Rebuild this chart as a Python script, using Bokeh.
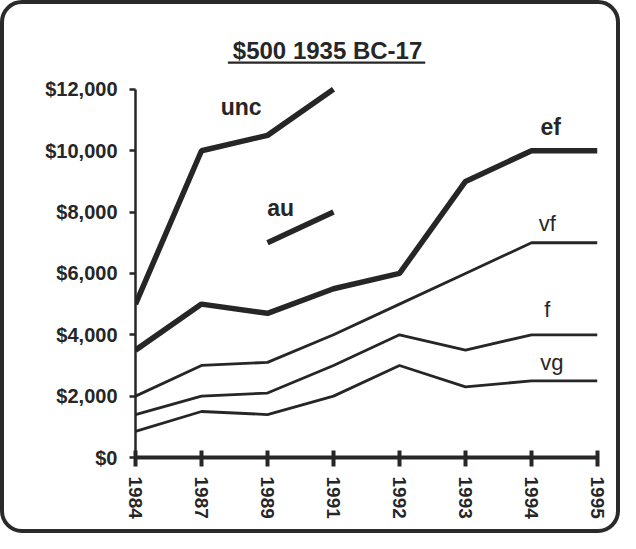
from bokeh.plotting import figure
from bokeh.models import Range1d, FixedTicker, NumeralTickFormatter
from bokeh.embed import file_html
from bokeh.resources import INLINE
from bokeh.core.properties import value

# ---- data ----
years = ["1984", "1987", "1989", "1991", "1992", "1993", "1994", "1995"]
unc_years = ["1984", "1987", "1989", "1991"]
unc = [5000, 10000, 10500, 12000]
au_years = ["1989", "1991"]
au = [7000, 8000]
ef = [3500, 5000, 4700, 5500, 6000, 9000, 10000, 10000]
vf = [2000, 3000, 3100, 4000, 5000, 6000, 7000, 7000]
f = [1400, 2000, 2100, 3000, 4000, 3500, 4000, 4000]
vg = [850, 1500, 1400, 2000, 3000, 2300, 2500, 2500]
y_ticks = [0, 2000, 4000, 6000, 8000, 10000, 12000]
title_text = "$500 1935 BC-17"

idx = {yr: i for i, yr in enumerate(years)}
X = [idx[y] for y in years]

FONT = "Liberation Sans"
INK = "#262626"

p = figure(width=620, height=533, output_backend="svg", toolbar_location=None,
           x_range=Range1d(0, len(years) - 1), y_range=Range1d(0, 14440),
           min_border_left=131, min_border_right=27, min_border_top=10,
           min_border_bottom=80)
p.border_fill_color = None
p.background_fill_color = None
p.outline_line_color = None
p.xgrid.visible = False
p.ygrid.visible = False
p.styles = {"border": "4px solid #2a2a2a", "border-radius": "22px",
            "box-sizing": "border-box", "overflow": "hidden"}

# y axis
ya = p.yaxis[0]
ya.ticker = FixedTicker(ticks=y_ticks)
ya.formatter = NumeralTickFormatter(format="$0,0")
ya.bounds = (0, 12000)
ya.axis_line_width = 2.5
ya.axis_line_color = INK
ya.major_tick_line_width = 2.5
ya.major_tick_line_color = INK
ya.major_tick_in = 0
ya.major_tick_out = 6
ya.minor_tick_line_color = None
ya.major_label_text_font = FONT
ya.major_label_text_font_style = "bold"
ya.major_label_text_font_size = "20px"
ya.major_label_text_color = INK
ya.major_label_standoff = 12

# x axis
xa = p.xaxis[0]
xa.ticker = FixedTicker(ticks=X)
xa.major_label_overrides = {i: yr for i, yr in zip(X, years)}
xa.axis_line_width = 4
xa.axis_line_color = INK
xa.major_tick_line_width = 4
xa.major_tick_line_color = INK
xa.major_tick_in = 7
xa.major_tick_out = 9
xa.minor_tick_line_color = None
xa.major_label_orientation = "vertical"
xa.major_label_text_font = FONT
xa.major_label_text_font_style = "bold"
xa.major_label_text_font_size = "19px"
xa.major_label_text_color = INK
xa.major_label_standoff = 10

# lines
thick, thin = 5.5, 2.8
p.line([idx[y] for y in unc_years], unc, line_width=thick, line_color=INK)
p.line([idx[y] for y in au_years], au, line_width=thick, line_color=INK)
p.line(X, ef, line_width=thick, line_color=INK)
p.line(X, vf, line_width=thin, line_color=INK)
p.line(X, f, line_width=thin, line_color=INK)
p.line(X, vg, line_width=thin, line_color=INK)

# series labels
bold_names = ["unc", "ef", "au"]
bold_x = [1.60, 6.29, 2.20]
bold_y = [11420, 10760, 8130]
p.text(x=bold_x, y=bold_y, text=bold_names,
       text_font=value(FONT), text_font_style="bold", text_font_size="23px",
       text_color=INK, text_align="center", text_baseline="middle")
norm_names = ["vf", "f", "vg"]
norm_x = [6.24, 6.24, 6.31]
norm_y = [7630, 4820, 3090]
p.text(x=norm_x, y=norm_y, text=norm_names,
       text_font=value(FONT), text_font_size="22px",
       text_color=INK, text_align="center", text_baseline="middle")

# title with underline
p.text(x=[2.91], y=[13260], text=[title_text], text_font=value(FONT),
       text_font_style="bold", text_font_size="24px", text_color=INK,
       text_align="center", text_baseline="alphabetic")
p.segment(x0=[1.40], y0=[12870], x1=[4.39], y1=[12870], line_width=2.2, line_color=INK)

open("out.html", "w").write(file_html(p, INLINE))
